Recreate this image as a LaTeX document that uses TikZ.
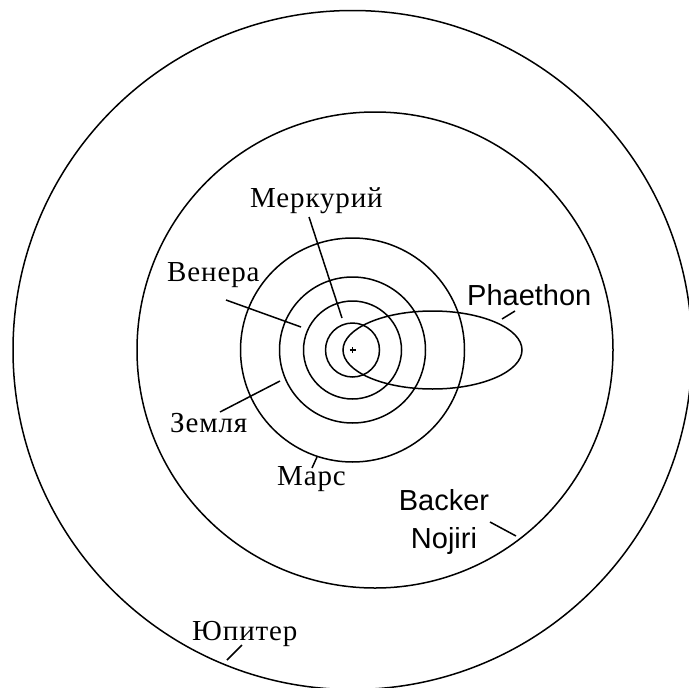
\documentclass[tikz,border=0pt]{standalone}
\usepackage{fontspec}
\setmainfont{Liberation Serif}[LetterSpace=3]
\newfontfamily\sansf{Liberation Sans}
\usetikzlibrary{calc}
\begin{document}
\begin{tikzpicture}[x=1pt,y=-1pt,
  orbit/.style={line width=1.5pt},
  leader/.style={line width=1.5pt},
  lbl/.style={inner sep=0pt, anchor=base west, font=\fontsize{29}{32}\selectfont},
  lblsans/.style={inner sep=0pt, font=\sansf\fontsize{29}{38}\selectfont}]
\useasboundingbox[fill=white] (0,0) rectangle (688,688);
% sun
\coordinate (sun) at (352.5,350);
\draw[line width=1.2pt] ($(sun)+(-3,0)$) -- ($(sun)+(3,0)$) ($(sun)+(0,-3)$) -- ($(sun)+(0,3)$);
% orbits
\draw[orbit] (sun) circle[radius=27pt];
\draw[orbit] (sun) circle[radius=49pt];
\draw[orbit] (sun) circle[radius=73pt];
\draw[orbit] (sun) circle[radius=112pt];
\draw[orbit] (375,350) circle[radius=238pt];
\draw[orbit] (sun) circle[radius=339.5pt];
\draw[orbit] (432.5,350) ellipse[x radius=89.5pt, y radius=39pt];
% labels
\node[lbl] (merc) at (250,207) {Меркурий};
\node[lbl] (ven) at (167,281) {Венера};
\node[lbl] (earth) at (170,432) {Земля};
\node[lbl] (mars) at (277,485) {Марс};
\node[lbl] (jup) at (192,640) {Юпитер};
\node[lblsans, anchor=base west] (pha) at (467,305) {Phaethon};
\node[lblsans, anchor=base, align=center] (bn) at (444,548) {Backer\\Nojiri};
% leader end points
\coordinate (mercS) at (309,217);  \coordinate (mercE) at (342,318);
\coordinate (venS)  at (226,300);  \coordinate (venE)  at (301,327);
\coordinate (earS)  at (220,412);  \coordinate (earE)  at (280,381);
\coordinate (marS)  at (312,468);  \coordinate (marE)  at (317,457);
\coordinate (jupS)  at (242,645);  \coordinate (jupE)  at (227,660);
\coordinate (phaS)  at (502,319);  \coordinate (phaE)  at (515,311);
\coordinate (bnS)   at (490,522);  \coordinate (bnE)   at (516,536);
\draw[leader] (mercS) -- (mercE);
\draw[leader] (venS) -- (venE);
\draw[leader] (earS) -- (earE);
\draw[leader] (marS) -- (marE);
\draw[leader] (jupS) -- (jupE);
\draw[leader] (phaS) -- (phaE);
\draw[leader] (bnS) -- (bnE);
\end{tikzpicture}
\end{document}
